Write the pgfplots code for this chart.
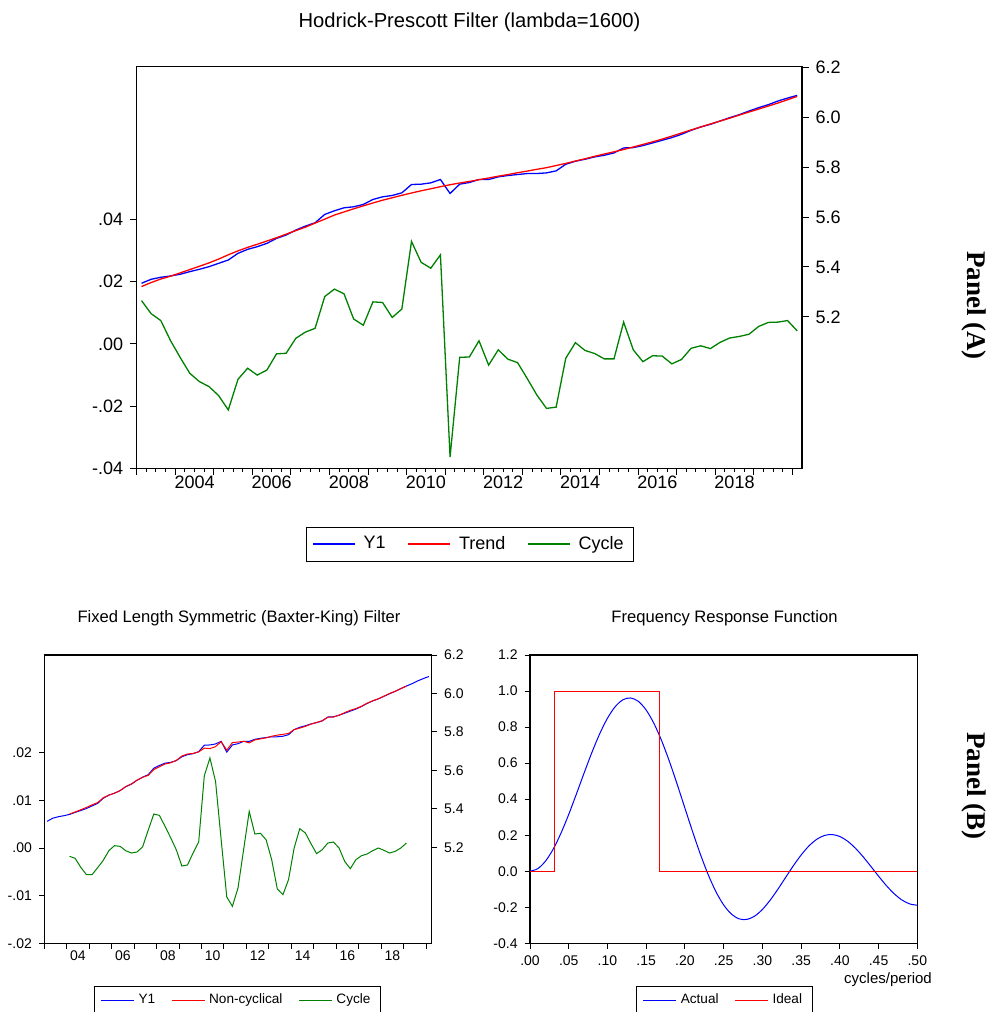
\documentclass[border=0pt]{standalone}
\usepackage{fontspec}
\setmainfont{Liberation Sans}
\newfontfamily\panelfont{Liberation Serif}
\usepackage{pgfplots}
\usepackage{pgfplotstable}
\pgfplotsset{compat=1.18}
\definecolor{eblue}{RGB}{0,0,255}
\definecolor{ered}{RGB}{255,0,0}
\definecolor{egreen}{RGB}{0,128,0}

\pgfplotstableread{
x y1 trend cycle
2003.125 5.3347 5.3215 0.0139
2003.375 5.3507 5.3377 0.0097
2003.625 5.3587 5.3517 0.0075
2003.875 5.3640 5.3630 0.0011
2004.125 5.3707 5.3762 -0.0043
2004.375 5.3813 5.3895 -0.0094
2004.625 5.3907 5.4028 -0.0121
2004.875 5.4013 5.4164 -0.0137
2005.125 5.4147 5.4318 -0.0166
2005.375 5.4280 5.4489 -0.0212
2005.625 5.4547 5.4646 -0.0114
2005.875 5.4707 5.4786 -0.0078
2006.125 5.4813 5.4910 -0.0100
2006.375 5.4947 5.5041 -0.0084
2006.625 5.5147 5.5173 -0.0032
2006.875 5.5280 5.5317 -0.0030
2007.125 5.5480 5.5458 0.0018
2007.375 5.5640 5.5596 0.0038
2007.625 5.5773 5.5760 0.0050
2007.875 5.6107 5.5918 0.0152
2008.125 5.6253 5.6081 0.0176
2008.375 5.6373 5.6207 0.0161
2008.625 5.6413 5.6331 0.0080
2008.875 5.6507 5.6451 0.0060
2009.125 5.6707 5.6566 0.0135
2009.375 5.6813 5.6678 0.0133
2009.625 5.6867 5.6774 0.0085
2009.875 5.6973 5.6874 0.0112
2010.125 5.7307 5.6966 0.0329
2010.375 5.7320 5.7055 0.0262
2010.625 5.7373 5.7136 0.0243
2010.875 5.7507 5.7220 0.0286
2011.125 5.6947 5.7298 -0.0363
2011.375 5.7320 5.7367 -0.0043
2011.625 5.7387 5.7430 -0.0042
2011.875 5.7507 5.7500 0.0010
2012.125 5.7507 5.7568 -0.0068
2012.375 5.7613 5.7641 -0.0019
2012.625 5.7667 5.7705 -0.0049
2012.875 5.7707 5.7780 -0.0060
2013.125 5.7747 5.7845 -0.0111
2013.375 5.7747 5.7916 -0.0164
2013.625 5.7773 5.7982 -0.0207
2013.875 5.7853 5.8067 -0.0203
2014.125 5.8120 5.8153 -0.0046
2014.375 5.8240 5.8248 0.0004
2014.625 5.8320 5.8340 -0.0021
2014.875 5.8413 5.8438 -0.0031
2015.125 5.8480 5.8531 -0.0048
2015.375 5.8573 5.8617 -0.0048
2015.625 5.8773 5.8710 0.0070
2015.875 5.8787 5.8811 -0.0019
2016.125 5.8867 5.8914 -0.0057
2016.375 5.8973 5.9018 -0.0038
2016.625 5.9080 5.9127 -0.0039
2016.875 5.9187 5.9247 -0.0064
2017.125 5.9320 5.9372 -0.0050
2017.375 5.9480 5.9494 -0.0014
2017.625 5.9613 5.9616 -0.0006
2017.875 5.9720 5.9734 -0.0015
2018.125 5.9853 5.9850 0.0005
2018.375 5.9987 5.9966 0.0019
2018.625 6.0107 6.0091 0.0024
2018.875 6.0253 6.0212 0.0031
2019.125 6.0387 6.0330 0.0056
2019.375 6.0507 6.0451 0.0069
2019.625 6.0653 6.0573 0.0070
2019.875 6.0773 6.0706 0.0075
2020.125 6.0880 6.0836 0.0042
}\hpdata

\pgfplotstableread{
x cycle noncyc
2004.125 -0.00175 5.3725
2004.375 -0.00217 5.3835
2004.625 -0.00406 5.3948
2004.875 -0.00559 5.4069
2005.125 -0.00559 5.4203
2005.375 -0.00413 5.4321
2005.625 -0.00259 5.4573
2005.875 -0.00056 5.4713
2006.125 0.00049 5.4808
2006.375 0.00035 5.4944
2006.625 -0.00056 5.5153
2006.875 -0.00105 5.5291
2007.125 -0.00084 5.5488
2007.375 0.00021 5.5638
2007.625 0.00371 5.5736
2007.875 0.00713 5.6036
2008.125 0.00685 5.6185
2008.375 0.00455 5.6328
2008.625 0.00217 5.6391
2008.875 -0.00035 5.6511
2009.125 -0.00378 5.6745
2009.375 -0.00357 5.6849
2009.625 -0.00105 5.6878
2009.875 0.00126 5.6960
2010.125 0.01517 5.7155
2010.375 0.01888 5.7131
2010.625 0.01399 5.7233
2010.875 0.00175 5.7490
2011.125 -0.01028 5.7050
2011.375 -0.01224 5.7442
2011.625 -0.00839 5.7471
2011.875 -0.00035 5.7511
2012.125 0.00769 5.7430
2012.375 0.00294 5.7584
2012.625 0.00308 5.7636
2012.875 0.00175 5.7690
2013.125 -0.00245 5.7772
2013.375 -0.00860 5.7833
2013.625 -0.00979 5.7871
2013.875 -0.00664 5.7919
2014.125 0.00000 5.8120
2014.375 0.00406 5.8199
2014.625 0.00315 5.8289
2014.875 0.00091 5.8404
2015.125 -0.00119 5.8492
2015.375 -0.00035 5.8577
2015.625 0.00105 5.8763
2015.875 0.00126 5.8774
2016.125 0.00000 5.8867
2016.375 -0.00280 5.9001
2016.625 -0.00434 5.9123
2016.875 -0.00245 5.9212
2017.125 -0.00161 5.9336
2017.375 -0.00126 5.9493
2017.625 -0.00056 5.9619
2017.875 0.00000 5.9720
2018.125 -0.00049 5.9858
2018.375 -0.00105 5.9998
2018.625 -0.00070 6.0114
2018.875 0.00000 6.0253
2019.125 0.00105 6.0377
}\bkdata

\pgfplotstableread{
f actual
0.00 0.0000
0.01 0.0142
0.02 0.0561
0.03 0.1231
0.04 0.2114
0.05 0.3156
0.06 0.4297
0.07 0.5469
0.08 0.6603
0.09 0.7631
0.10 0.8492
0.11 0.9134
0.12 0.9517
0.13 0.9617
0.14 0.9424
0.15 0.8945
0.16 0.8203
0.17 0.7235
0.18 0.6090
0.19 0.4824
0.20 0.3501
0.21 0.2185
0.22 0.0938
0.23 -0.0184
0.24 -0.1132
0.25 -0.1871
0.26 -0.2378
0.27 -0.2644
0.28 -0.2675
0.29 -0.2491
0.30 -0.2121
0.31 -0.1608
0.32 -0.0998
0.33 -0.0343
0.34 0.0306
0.35 0.0900
0.36 0.1399
0.37 0.1767
0.38 0.1983
0.39 0.2036
0.40 0.1927
0.41 0.1668
0.42 0.1283
0.43 0.0805
0.44 0.0272
0.45 -0.0275
0.46 -0.0793
0.47 -0.1243
0.48 -0.1592
0.49 -0.1811
0.50 -0.1887
}\frdata

\pgfplotstableread{
f ideal
0.00 0
0.03125 0
0.03125 1
0.16667 1
0.16667 0
0.50 0
}\iddata

\begin{document}
\begin{tikzpicture}
\path[use as bounding box] (0pt,0pt) rectangle (494pt,-506pt);
\pgfplotsset{
  ev/.style={scale only axis, axis line style={line width=0.6pt},
    tick align=outside, tick style={black,line width=0.5pt},
    scaled x ticks=false, scaled y ticks=false},
  fa/.style={tick label style={font=\fontsize{9}{10}\selectfont}},
  fb/.style={tick label style={font=\fontsize{7}{8}\selectfont}},
}
% ---------------- Panel A ----------------
\node[font=\fontsize{10.1}{12}\selectfont] at (234.75pt,-11pt) {Hodrick-Prescott Filter (lambda=1600)};
\begin{axis}[ev, fa,
  at={(68.35pt,-234.25pt)}, anchor=south west,
  width=332.65pt, height=200.9pt,
  xmin=2003, xmax=2020.25, ymin=-0.04, ymax=0.089,
  xtick pos=left, ytick pos=left,
  xtick={2003,2004,2005,2006,2007,2008,2009,2010,2011,2012,2013,2014,2015,2016,2017,2018,2019,2020},
  xticklabels={},
  minor x tick num=3,
  major tick length=3.3pt, minor tick length=1.7pt,
  extra x ticks={2004.5,2006.5,2008.5,2010.5,2012.5,2014.5,2016.5,2018.5},
  extra x tick labels={2004,2006,2008,2010,2012,2014,2016,2018},
  extra x tick style={major tick length=0pt},
  ytick={-0.04,-0.02,0,0.02,0.04},
  yticklabels={-.04,-.02,.00,.02,.04},
]
\addplot[egreen, line width=0.65pt] table[x=x, y=cycle] {\hpdata};
\end{axis}
\begin{axis}[ev, fa,
  at={(68.35pt,-234.25pt)}, anchor=south west,
  width=332.65pt, height=200.9pt,
  xmin=2003, xmax=2020.25, ymin=4.592, ymax=6.203,
  axis x line=none, axis y line*=right,
  major tick length=3.3pt,
  ytick={5.2,5.4,5.6,5.8,6.0,6.2},
  yticklabels={5.2,5.4,5.6,5.8,6.0,6.2},
  legend image code/.code={\draw[#1] (0pt,0pt) -- (21pt,0pt);},
  legend style={at={(0.501,-0.188)}, anchor=center, draw=black, line width=0.5pt,
    font=\fontsize{9}{10}\selectfont, legend columns=3, inner xsep=3pt, inner ysep=2.5pt,
    /tikz/every odd column/.append style={column sep=2pt},
    /tikz/every even column/.append style={column sep=9pt}},
]
\addplot[eblue, line width=0.65pt] table[x=x, y=y1] {\hpdata};
\addlegendentry{Y1}
\addplot[ered, line width=0.65pt] table[x=x, y=trend] {\hpdata};
\addlegendentry{Trend}
\addlegendimage{egreen, line width=0.65pt}
\addlegendentry{Cycle}
\end{axis}
% ---------------- Panel B left ----------------
\node[font=\fontsize{8.3}{10}\selectfont] at (119.5pt,-309pt) {Fixed Length Symmetric (Baxter-King) Filter};
\begin{axis}[ev, fb,
  at={(22.15pt,-471.65pt)}, anchor=south west,
  width=193.7pt, height=144.15pt,
  xmin=2003, xmax=2020.25, ymin=-0.02, ymax=0.0405,
  xtick pos=left, ytick pos=left,
  major tick length=2.7pt,
  xtick={2003,2004,2005,2006,2007,2008,2009,2010,2011,2012,2013,2014,2015,2016,2017,2018,2019,2020},
  xticklabels={},
  extra x ticks={2004.5,2006.5,2008.5,2010.5,2012.5,2014.5,2016.5,2018.5},
  extra x tick labels={04,06,08,10,12,14,16,18},
  extra x tick style={major tick length=0pt},
  ytick={-0.02,-0.01,0,0.01,0.02},
  yticklabels={-.02,-.01,.00,.01,.02},
]
\addplot[egreen, line width=0.5pt] table[x=x, y=cycle] {\bkdata};
\end{axis}
\begin{axis}[ev, fb,
  at={(22.15pt,-471.65pt)}, anchor=south west,
  width=193.7pt, height=144.15pt,
  xmin=2003, xmax=2020.25, ymin=4.7, ymax=6.2,
  axis x line=none, axis y line*=right,
  major tick length=2.7pt,
  ytick={5.2,5.4,5.6,5.8,6.0,6.2},
  yticklabels={5.2,5.4,5.6,5.8,6.0,6.2},
  legend image code/.code={\draw[#1] (0pt,0pt) -- (16.5pt,0pt);},
  legend style={at={(0.4987,-0.1967)}, anchor=center, draw=black, line width=0.5pt,
    font=\fontsize{6.8}{8}\selectfont, legend columns=3, inner xsep=3pt, inner ysep=1.5pt,
    /tikz/every even column/.append style={column sep=6pt}},
]
\addplot[eblue, line width=0.5pt] table[x=x, y=y1] {\hpdata};
\addlegendentry{Y1}
\addplot[ered, line width=0.5pt] table[x=x, y=noncyc] {\bkdata};
\addlegendentry{Non-cyclical}
\addlegendimage{egreen, line width=0.5pt}
\addlegendentry{Cycle}
\end{axis}
% ---------------- Panel B right ----------------
\node[font=\fontsize{8.3}{10}\selectfont] at (362.25pt,-309pt) {Frequency Response Function};
\begin{axis}[ev, fb,
  at={(265pt,-471.65pt)}, anchor=south west,
  width=193.65pt, height=144.15pt,
  xmin=0, xmax=0.5, ymin=-0.4, ymax=1.2,
  xtick pos=left, ytick pos=left,
  major tick length=2.7pt,
  xtick={0,0.05,0.1,0.15,0.2,0.25,0.3,0.35,0.4,0.45,0.5},
  xticklabels={.00,.05,.10,.15,.20,.25,.30,.35,.40,.45,.50},
  ytick={-0.4,-0.2,0,0.2,0.4,0.6,0.8,1.0,1.2},
  yticklabels={-0.4,-0.2,0.0,0.2,0.4,0.6,0.8,1.0,1.2},
  legend image code/.code={\draw[#1] (0pt,0pt) -- (16.5pt,0pt);},
  legend style={at={(0.502,-0.1967)}, anchor=center, draw=black, line width=0.5pt,
    font=\fontsize{6.8}{8}\selectfont, legend columns=2, inner xsep=3pt, inner ysep=1.5pt,
    /tikz/every even column/.append style={column sep=6pt}},
]
\addplot[eblue, line width=0.5pt, smooth] table[x=f, y=actual] {\frdata};
\addlegendentry{Actual}
\addplot[ered, line width=0.5pt] table[x=f, y=ideal] {\iddata};
\addlegendentry{Ideal}
\end{axis}
\node[font=\fontsize{7.5}{9}\selectfont] at (444pt,-490pt) {cycles/period};
% ---------------- Panel labels ----------------
\node[rotate=-90, font=\panelfont\bfseries\fontsize{13.5}{15}\selectfont] at (487pt,-152.75pt) {Panel (A)};
\node[rotate=-90, font=\panelfont\bfseries\fontsize{13.5}{15}\selectfont] at (487pt,-393pt) {Panel (B)};
\end{tikzpicture}
\end{document}
